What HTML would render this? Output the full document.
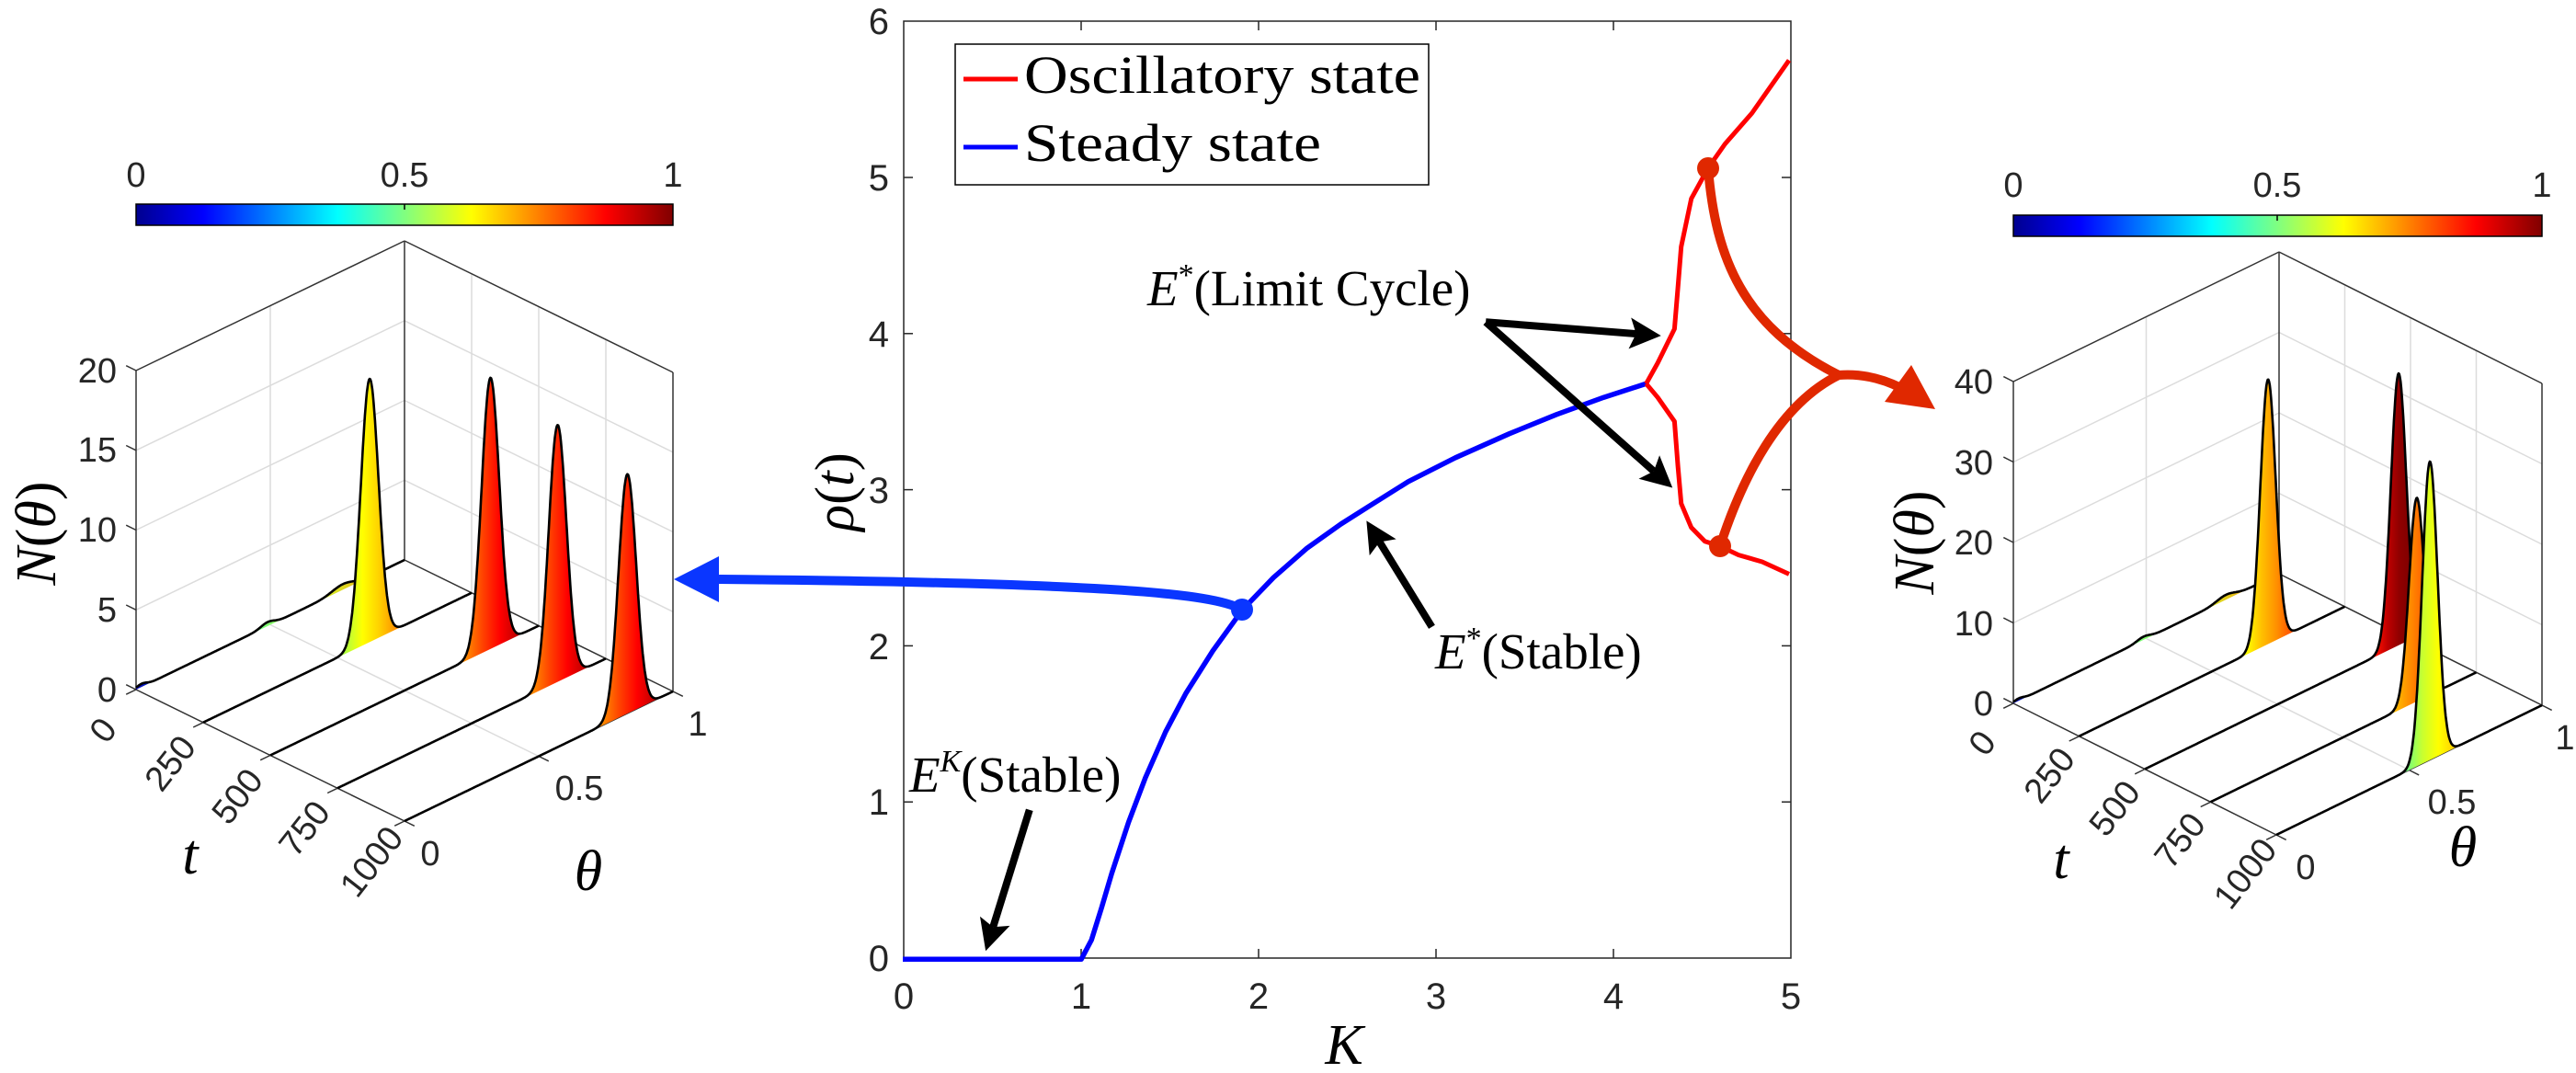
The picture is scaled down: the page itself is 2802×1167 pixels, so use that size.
<!DOCTYPE html>
<html><head><meta charset="utf-8">
<style>
html,body{margin:0;padding:0;background:#fff;}
svg{display:block;}
.tk{font-family:"Liberation Sans",Arial,sans-serif;fill:#262626;}
.mt{font-family:"Liberation Serif","Times New Roman",serif;fill:#000;}
</style></head>
<body>
<svg id="s" width="2802" height="1167" viewBox="0 0 2802 1167">
<defs>
<linearGradient id="jet" x1="0" y1="0" x2="1" y2="0">
<stop offset="0" stop-color="#00008f"/><stop offset="0.125" stop-color="#0000ff"/>
<stop offset="0.375" stop-color="#00ffff"/><stop offset="0.5" stop-color="#80ff80"/><stop offset="0.625" stop-color="#ffff00"/>
<stop offset="0.875" stop-color="#ff0000"/><stop offset="1" stop-color="#800000"/>
</linearGradient>
</defs>
<rect width="2802" height="1167" fill="#fff"/>
<g id="gL"></g>
<g id="gR"></g>
<g id="gM"></g>

<!-- Left panel texts -->
<rect x="148" y="222" width="584" height="23" fill="url(#jet)" stroke="#000" stroke-width="1.5"/>
<line x1="440" y1="222" x2="440" y2="228" stroke="#000" stroke-width="1.5"/>
<g class="tk" font-size="38" text-anchor="middle">
<text x="148" y="203">0</text><text x="440" y="203">0.5</text><text x="732" y="203">1</text>
</g>
<g class="tk" font-size="38" text-anchor="end">
<text x="127" y="763">0</text><text x="127" y="676">5</text><text x="127" y="589">10</text><text x="127" y="502">15</text><text x="127" y="416">20</text>
</g>
<g class="tk" font-size="38" text-anchor="middle">
<text transform="translate(112,794) rotate(-52)" y="13">0</text>
<text transform="translate(185,830) rotate(-52)" y="13">250</text>
<text transform="translate(258,866) rotate(-52)" y="13">500</text>
<text transform="translate(331,901) rotate(-52)" y="13">750</text>
<text transform="translate(404,937) rotate(-52)" y="13">1000</text>
<text x="468" y="941">0</text><text x="630" y="870">0.5</text><text x="759" y="800">1</text>
</g>
<text class="mt" font-size="62" font-style="italic" text-anchor="middle" x="207" y="950">t</text>
<text class="mt" font-size="62" font-style="italic" text-anchor="middle" x="640" y="968">θ</text>
<text class="mt" font-size="62" text-anchor="middle" transform="translate(60,580) rotate(-90)"><tspan font-style="italic">N</tspan>(<tspan font-style="italic">θ</tspan>)</text>

<!-- Right panel texts -->
<rect x="2190" y="234" width="575" height="23" fill="url(#jet)" stroke="#000" stroke-width="1.5"/>
<line x1="2477" y1="234" x2="2477" y2="240" stroke="#000" stroke-width="1.5"/>
<g class="tk" font-size="38" text-anchor="middle">
<text x="2190" y="214">0</text><text x="2477" y="214">0.5</text><text x="2765" y="214">1</text>
</g>
<g class="tk" font-size="38" text-anchor="end">
<text x="2168" y="778">0</text><text x="2168" y="691">10</text><text x="2168" y="603">20</text><text x="2168" y="516">30</text><text x="2168" y="428">40</text>
</g>
<g class="tk" font-size="38" text-anchor="middle">
<text transform="translate(2156,808) rotate(-52)" y="13">0</text>
<text transform="translate(2229,843) rotate(-52)" y="13">250</text>
<text transform="translate(2300,879) rotate(-52)" y="13">500</text>
<text transform="translate(2371,914) rotate(-52)" y="13">750</text>
<text transform="translate(2442,950) rotate(-52)" y="13">1000</text>
<text x="2508" y="956">0</text><text x="2667" y="885">0.5</text><text x="2790" y="815">1</text>
</g>
<text class="mt" font-size="62" font-style="italic" text-anchor="middle" x="2242" y="955">t</text>
<text class="mt" font-size="62" font-style="italic" text-anchor="middle" x="2679" y="942">θ</text>
<text class="mt" font-size="62" text-anchor="middle" transform="translate(2103,590) rotate(-90)"><tspan font-style="italic">N</tspan>(<tspan font-style="italic">θ</tspan>)</text>

<!-- Middle texts -->
<g class="tk" font-size="40" text-anchor="end">
<text x="967" y="1056">0</text><text x="967" y="886">1</text><text x="967" y="717">2</text><text x="967" y="547">3</text><text x="967" y="377">4</text><text x="967" y="207">5</text><text x="967" y="37">6</text>
</g>
<g class="tk" font-size="40" text-anchor="middle">
<text x="983" y="1097">0</text><text x="1176" y="1097">1</text><text x="1369" y="1097">2</text><text x="1562" y="1097">3</text><text x="1755" y="1097">4</text><text x="1948" y="1097">5</text>
</g>
<text class="mt" font-size="62" font-style="italic" text-anchor="middle" x="1462" y="1157">K</text>
<text class="mt" font-size="60" text-anchor="middle" transform="translate(928,535) rotate(-90)"><tspan font-style="italic">ρ</tspan>(<tspan font-style="italic">t</tspan>)</text>

<rect x="1039" y="48" width="515" height="153" fill="#fff" stroke="#000" stroke-width="1.5"/>
<line x1="1048" y1="86" x2="1107" y2="86" stroke="#ff0000" stroke-width="5"/>
<line x1="1048" y1="160" x2="1107" y2="160" stroke="#0000ff" stroke-width="5"/>
<text class="mt" font-size="58" x="1114" y="101" textLength="431" lengthAdjust="spacingAndGlyphs">Oscillatory state</text>
<text class="mt" font-size="58" x="1114" y="175" textLength="323" lengthAdjust="spacingAndGlyphs">Steady state</text>

<text class="mt" font-size="55" x="1248" y="332"><tspan font-style="italic">E</tspan><tspan font-size="34" dy="-22">*</tspan><tspan dy="22">(Limit Cycle)</tspan></text>
<text class="mt" font-size="55" x="1561" y="727"><tspan font-style="italic">E</tspan><tspan font-size="34" dy="-22">*</tspan><tspan dy="22">(Stable)</tspan></text>
<text class="mt" font-size="55" x="989" y="861"><tspan font-style="italic">E</tspan><tspan font-size="34" font-style="italic" dy="-22">K</tspan><tspan dy="22">(Stable)</tspan></text>
</svg>
<script>
function gauss(th,peaks){let z=0;for(const p of peaks){z+=p[1]*Math.exp(-0.5*Math.pow((th-p[0])/p[2],2));}return z;}
function panel(id,o){
  const L=o.L,a=o.a,b=o.b,zs=o.zs;
  const P=(t,th,z)=>[L[0]+t*a[0]+th*b[0], L[1]+t*a[1]+th*b[1]-z*zs];
  const ln=(p,q,c,w)=>`<line x1="${p[0].toFixed(1)}" y1="${p[1].toFixed(1)}" x2="${q[0].toFixed(1)}" y2="${q[1].toFixed(1)}" stroke="${c}" stroke-width="${w}"/>`;
  let s='';const g='#dcdcdc',zm=o.zmax;
  for(const z of o.zgrid){s+=ln(P(0,0,z),P(0,1,z),g,1.5);s+=ln(P(0,1,z),P(1,1,z),g,1.5);}
  s+=ln(P(0,.5,0),P(0,.5,zm),g,1.5);
  for(const t of [.25,.5,.75]) s+=ln(P(t,1,0),P(t,1,zm),g,1.5);
  s+=ln(P(0,.5,0),P(1,.5,0),g,1.5);
  const e='#333';
  s+=ln(P(0,0,0),P(0,0,zm),e,1.5);s+=ln(P(0,1,0),P(0,1,zm),e,1.5);s+=ln(P(1,1,0),P(1,1,zm),e,1.5);
  s+=ln(P(0,0,zm),P(0,1,zm),e,1.5);s+=ln(P(0,1,zm),P(1,1,zm),e,1.5);
  s+=ln(P(0,1,0),P(1,1,0),e,1.5);
  s+=ln(P(0,0,0),P(1,0,0),e,1.5);s+=ln(P(1,0,0),P(1,1,0),e,1.5);
  const na=Math.hypot(a[0],a[1]),nb=Math.hypot(b[0],b[1]);
  for(const z of o.zt){const p=P(0,0,z);s+=ln(p,[p[0]-a[0]/na*12,p[1]-a[1]/na*12],e,1.5);}
  for(const t of [0,.25,.5,.75,1]){const p=P(t,0,0);s+=ln(p,[p[0]-b[0]/nb*12,p[1]-b[1]/nb*12],e,1.5);}
  for(const th of [0,.5,1]){const p=P(1,th,0);s+=ln(p,[p[0]+a[0]/na*12,p[1]+a[1]/na*12],e,1.5);}
  o.slices.forEach((sl,i)=>{
    const t=sl.t,pts=[];
    for(let k=0;k<=400;k++){const th=k/400;pts.push(P(t,th,gauss(th,sl.p)));}
    const base=[];for(let k=400;k>=0;k-=400){base.push(P(t,k/400,0));}
    const gid=id+'g'+i;
    const x1=P(t,sl.g[0],0)[0],x2=P(t,sl.g[1],0)[0];
    s+=`<linearGradient id="${gid}" gradientUnits="userSpaceOnUse" x1="${x1}" y1="0" x2="${x2}" y2="0">`+
      sl.c.map((c,j)=>`<stop offset="${j/(sl.c.length-1)}" stop-color="${c}"/>`).join('')+`</linearGradient>`;
    const d='M'+pts.map(p=>p[0].toFixed(1)+','+p[1].toFixed(1)).join('L');
    s+=`<path d="${d}L${base.map(p=>p[0].toFixed(1)+','+p[1].toFixed(1)).join('L')}Z" fill="url(#${gid})"/>`;
    s+=`<path d="${d}" fill="none" stroke="#000" stroke-width="2.6" stroke-linejoin="round"/>`;
  });
  document.getElementById(id).innerHTML=s;
}
const sg=0.033;
panel('gL',{L:[148,750],a:[292,143],b:[292,-141],zs:17.35,zmax:20,zgrid:[5,10,15],zt:[0,5,10,15,20],
 slices:[
  {t:0,p:[[0.02,0.2,0.02],[0.49,0.25,0.025],[0.77,0.35,0.04]],g:[0,1],c:['#0000c0','#40ffb0','#d0ff30','#ff8000']},
  {t:.25,p:[[0.62,16.5,sg]],g:[0.53,0.72],c:['#b0ff40','#ffff00','#ffd000','#ff9000']},
  {t:.5,p:[[0.82,17,sg]],g:[0.73,0.92],c:['#ff8a00','#ff4000','#ff0000','#c00000']},
  {t:.75,p:[[0.82,16.1,sg]],g:[0.73,0.92],c:['#ff8a00','#ff4000','#ff0000','#c00000']},
  {t:1,p:[[0.83,15,sg]],g:[0.74,0.93],c:['#ff8a00','#ff4000','#ff0000','#c00000']}
 ]});
const sr=0.029;
panel('gR',{L:[2190,765],a:[286,143],b:[289,-141],zs:8.75,zmax:40,zgrid:[10,20,30],zt:[0,10,20,30,40],
 slices:[
  {t:0,p:[[0.02,0.3,0.02],[0.49,0.4,0.025],[0.8,0.6,0.035]],g:[0,1],c:['#0000c0','#40ffb0','#d0ff30','#ff8000']},
  {t:.25,p:[[0.711,32.9,sr]],g:[0.63,0.8],c:['#ffff00','#ffc000','#ff9000','#ff5000']},
  {t:.5,p:[[0.955,33.8,sr]],g:[0.87,1.0],c:['#ff1000','#c00000','#900000','#800000']},
  {t:.75,p:[[0.776,25.3,sr]],g:[0.69,0.86],c:['#ffc000','#ff9000','#ff6000','#ff3000']},
  {t:1,p:[[0.578,37.1,sr]],g:[0.49,0.67],c:['#70ff80','#c8ff30','#ffff00','#ffd000']}
 ]});
(function(){
 const M=(x,y)=>[850+x/1.364,y/1.342];
 const poly=(arr)=>arr.map(p=>{const q=M(p[0],p[1]);return q[0].toFixed(1)+','+q[1].toFixed(1);}).join(' ');
 let s='';
 s+='<rect x="983" y="23" width="965" height="1019" fill="none" stroke="#262626" stroke-width="1.5"/>';
 for(let k=1;k<5;k++){const x=983+193*k;s+=`<line x1="${x}" y1="1042" x2="${x}" y2="1032" stroke="#262626" stroke-width="1.5"/><line x1="${x}" y1="23" x2="${x}" y2="33" stroke="#262626" stroke-width="1.5"/>`;}
 for(let r=1;r<6;r++){const y=1042-169.8*r;s+=`<line x1="983" y1="${y}" x2="993" y2="${y}" stroke="#262626" stroke-width="1.5"/><line x1="1948" y1="${y}" x2="1938" y2="${y}" stroke="#262626" stroke-width="1.5"/>`;}
 s+=`<polyline points="${poly([[180,1400],[445,1400],[460,1372],[475,1325],[490,1275],[515,1200],[540,1135],[570,1068],[600,1012],[640,950],[684,890],[730,843],[780,800],[830,765],[870,740],[930,703],[1000,668],[1080,633],[1150,605],[1220,580],[1283,560]])}" fill="none" stroke="#0000ff" stroke-width="5.5" stroke-linejoin="round"/>`;
 s+=`<polyline points="${poly([[1283,560],[1300,530],[1325,480],[1330,420],[1335,360],[1350,290],[1375,245],[1400,210],[1440,165],[1495,88]])}" fill="none" stroke="#ff0000" stroke-width="5" stroke-linejoin="round"/>`;
 s+=`<polyline points="${poly([[1283,560],[1300,580],[1325,615],[1330,680],[1335,735],[1350,770],[1370,790],[1392,797],[1420,810],[1455,820],[1495,838]])}" fill="none" stroke="#ff0000" stroke-width="5" stroke-linejoin="round"/>`;
 s+='<path d="M1858,183 C1866,280 1895,355 2000,408 M1871,594 C1895,520 1935,440 2000,408 M2000,408 C2025,406 2048,412 2068,422" fill="none" stroke="#e02800" stroke-width="10" stroke-linecap="round"/>';
 s+='<polygon points="2105,445 2079,397 2050,437" fill="#e02800"/>';
 s+='<circle cx="1858" cy="183" r="12" fill="#e02800"/><circle cx="1871" cy="594" r="12" fill="#e02800"/>';
 s+='<path d="M1351,663 C1320,645 1200,634 782,630" fill="none" stroke="#0a36ff" stroke-width="10"/>';
 s+='<polygon points="733,630 782,605 782,655" fill="#0a36ff"/>';
 s+='<circle cx="1351" cy="663" r="12" fill="#0a36ff"/>';
 function arrow(p,q){const A=M(p[0],p[1]),B=M(q[0],q[1]);const dx=B[0]-A[0],dy=B[1]-A[1],n=Math.hypot(dx,dy),ux=dx/n,uy=dy/n,px=-uy,py=ux;
  const Lh=34,W=17,bx=B[0]-ux*Lh*0.8,by=B[1]-uy*Lh*0.8;
  s+=`<line x1="${A[0]}" y1="${A[1]}" x2="${bx}" y2="${by}" stroke="#000" stroke-width="8"/>`;
  s+=`<polygon points="${B[0]},${B[1]} ${B[0]-ux*Lh+px*W},${B[1]-uy*Lh+py*W} ${bx},${by} ${B[0]-ux*Lh-px*W},${B[1]-uy*Lh-py*W}" fill="#000"/>`;}
 arrow([1045,470],[1305,490]);arrow([1045,470],[1322,712]);arrow([965,915],[868,760]);arrow([368,1182],[303,1388]);
 document.getElementById('gM').innerHTML=s;
})();
</script>
</body></html>
